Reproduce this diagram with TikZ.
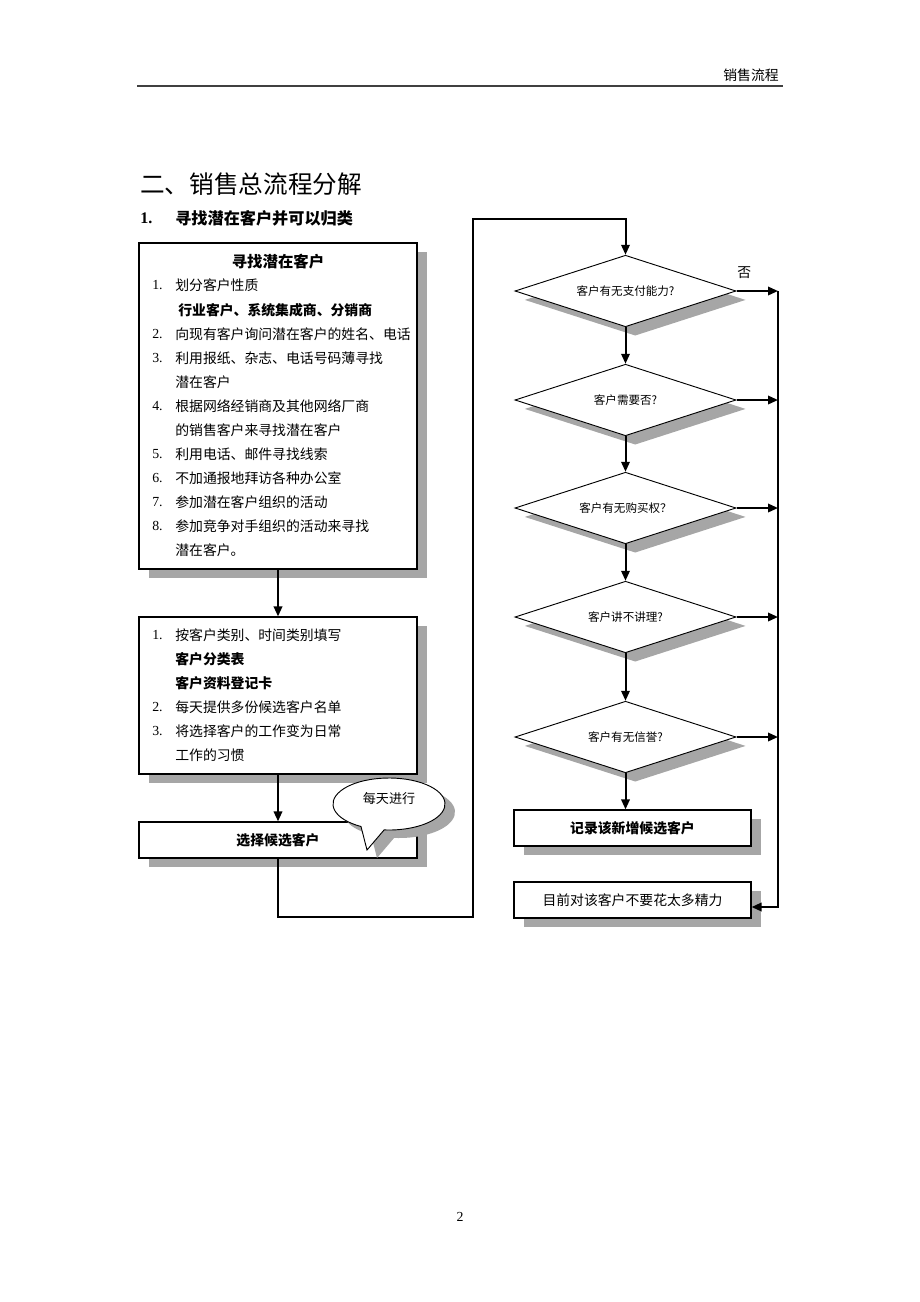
\documentclass[tikz,border=0pt]{standalone}
\usepackage{fontspec}
\setmainfont{Liberation Serif}
\newfontfamily\cjk{Noto Sans CJK SC}
\usetikzlibrary{shapes.geometric,shadows,arrows.meta,calc}
\begin{document}
\begin{tikzpicture}[x=0.65pt,y=-0.65pt,
 shad/.style={drop shadow={shadow xshift=6.3pt,shadow yshift=-5.8pt,fill=gray!70,opacity=1}},
 box/.style={draw,line width=0.8pt,fill=white,shad,inner sep=0},
 dia/.style={diamond,draw,line width=0.6pt,fill=white,shad,minimum width=143.7pt,minimum height=46.5pt,inner sep=0,aspect=3,font=\cjk\fontsize{7.5}{9}\selectfont},
 conn/.style={line width=1.3pt,-{Triangle[length=6.5pt,width=5.5pt]}},
 wire/.style={line width=1.3pt},
 txt/.style={anchor=west,inner sep=0,font=\cjk\fontsize{9}{11}\selectfont},
 btxt/.style={anchor=west,inner sep=0,font=\cjk\bfseries\fontsize{9}{11}\selectfont},
 num/.style={anchor=west,inner sep=0,font=\fontsize{9}{11}\selectfont},
]
\useasboundingbox (0,0) rectangle (920,1302);
% header
\node[anchor=east,inner sep=0,font=\cjk\fontsize{9}{11}\selectfont] (hdr) at (779,75) {销售流程};
\draw[line width=1.3pt,gray!50!black] (137,86) -- (783,86);
% titles
\node[anchor=west,inner sep=0,font=\cjk\fontsize{16}{18}\selectfont] (title) at (140,184) {二、销售总流程分解};
\node[anchor=west,inner sep=0,font=\bfseries\fontsize{10.5}{12}\selectfont] (t1n) at (140,218) {1.};
\node[anchor=west,inner sep=0,font=\cjk\bfseries\fontsize{10.5}{12}\selectfont] (t1) at (175,218) {寻找潜在客户并可以归类};
% left boxes
\node[box,minimum width=180.7pt,minimum height=211.9pt] (b1) at (278,406) {};
\node[box,minimum width=180.7pt,minimum height=102pt] (b2) at (278,695.5) {};
\node[box,minimum width=180.7pt,minimum height=23.4pt,font=\cjk\bfseries\fontsize{9}{11}\selectfont] (b3) at (278,840) {选择候选客户};
% box1 text
\node[inner sep=0,font=\cjk\bfseries\fontsize{10}{12}\selectfont] (b1t) at (278,262) {寻找潜在客户};
\foreach \y/\n/\nm in {285/1./a1,334/2./a2,358/3./a3,406/4./a4,454/5./a5,478/6./a6,502/7./a7,526/8./a8,635/1./c1,707/2./c2,731/3./c3}
  \node[num] (\nm n) at (152,\y) {\n};
\foreach \y/\t/\nm in {285/划分客户性质/a1,334/向现有客户询问潜在客户的姓名、电话/a2,358/利用报纸、杂志、电话号码薄寻找/a3,382/潜在客户/a3b,406/根据网络经销商及其他网络厂商/a4,430/的销售客户来寻找潜在客户/a4b,454/利用电话、邮件寻找线索/a5,478/不加通报地拜访各种办公室/a6,502/参加潜在客户组织的活动/a7,526/参加竞争对手组织的活动来寻找/a8,550/潜在客户。/a8b,635/按客户类别、时间类别填写/c1,707/每天提供多份候选客户名单/c2,731/将选择客户的工作变为日常/c3,755/工作的习惯/c3b}
  \node[txt] (\nm t) at (175,\y) {\t};
\node[btxt] (a1b) at (178,310) {行业客户、系统集成商、分销商};
\node[btxt] (c1b) at (175,659) {客户分类表};
\node[btxt] (c1c) at (175,683) {客户资料登记卡};
% callout
\coordinate (cc) at (389,804);
\path (cc) ++(95:56 and 26) coordinate (tr);
\path (cc) ++(120:56 and 26) coordinate (tl);
\coordinate (tip) at (367,850);
\fill[gray!70] ($(tr)+(10,8)$) -- ($(tip)+(10,8)$) -- ($(tl)+(10,8)$) arc[start angle=120,end angle=455,x radius=56,y radius=26] -- cycle;
\draw[line width=0.6pt,fill=white] (tr) -- (tip) -- (tl) arc[start angle=120,end angle=455,x radius=56,y radius=26] -- cycle;
\node[inner sep=0,font=\cjk\fontsize{8.5}{10}\selectfont] (cal) at (389,798) {每天进行};
% left connectors
\draw[conn] (b1.south) -- (b2.north);
\draw[conn] (b2.south) -- (b3.north);
% diamonds
\node[dia] (d1) at (625.5,291) {客户有无支付能力?};
\node[dia] (d2) at (625.5,400) {客户需要否?};
\node[dia] (d3) at (625.5,508) {客户有无购买权？};
\node[dia] (d4) at (625.5,617) {客户讲不讲理?};
\node[dia] (d5) at (625.5,737) {客户有无信誉?};
\node[box,minimum width=154pt,minimum height=23.4pt,font=\cjk\bfseries\fontsize{9}{11}\selectfont] (rec) at (632.5,828) {记录该新增候选客户};
\node[box,minimum width=154pt,minimum height=23.4pt,font=\cjk\fontsize{9}{11}\selectfont] (lst) at (632.5,900) {目前对该客户不要花太多精力};
\node[anchor=west,inner sep=0,font=\cjk\fontsize{9}{11}\selectfont] (no) at (737,273) {否};
% loop from left to top
\coordinate (lb) at (473,917);
\coordinate (lt) at (473,219);
\draw[conn] (b3.south) |- (lb) -- (lt) -| (d1.north);
% down chain
\draw[conn] (d1.south) -- (d2.north);
\draw[conn] (d2.south) -- (d3.north);
\draw[conn] (d3.south) -- (d4.north);
\draw[conn] (d4.south) -- (d5.north);
\draw[conn] (d5.south) -- (d5.south |- rec.north);
% right bus
\coordinate (rt) at (778,291);
\coordinate (rb) at (778,907);
\foreach \d in {d1,d2,d3,d4,d5}
  \draw[conn] (\d.east) -- (\d.east -| rt);
\draw[conn] (rt) -- (rb) -- (rb -| lst.east);
% page number
\node[inner sep=0,font=\fontsize{9}{11}\selectfont] (pg) at (460,1217) {2};
\end{tikzpicture}
\end{document}
